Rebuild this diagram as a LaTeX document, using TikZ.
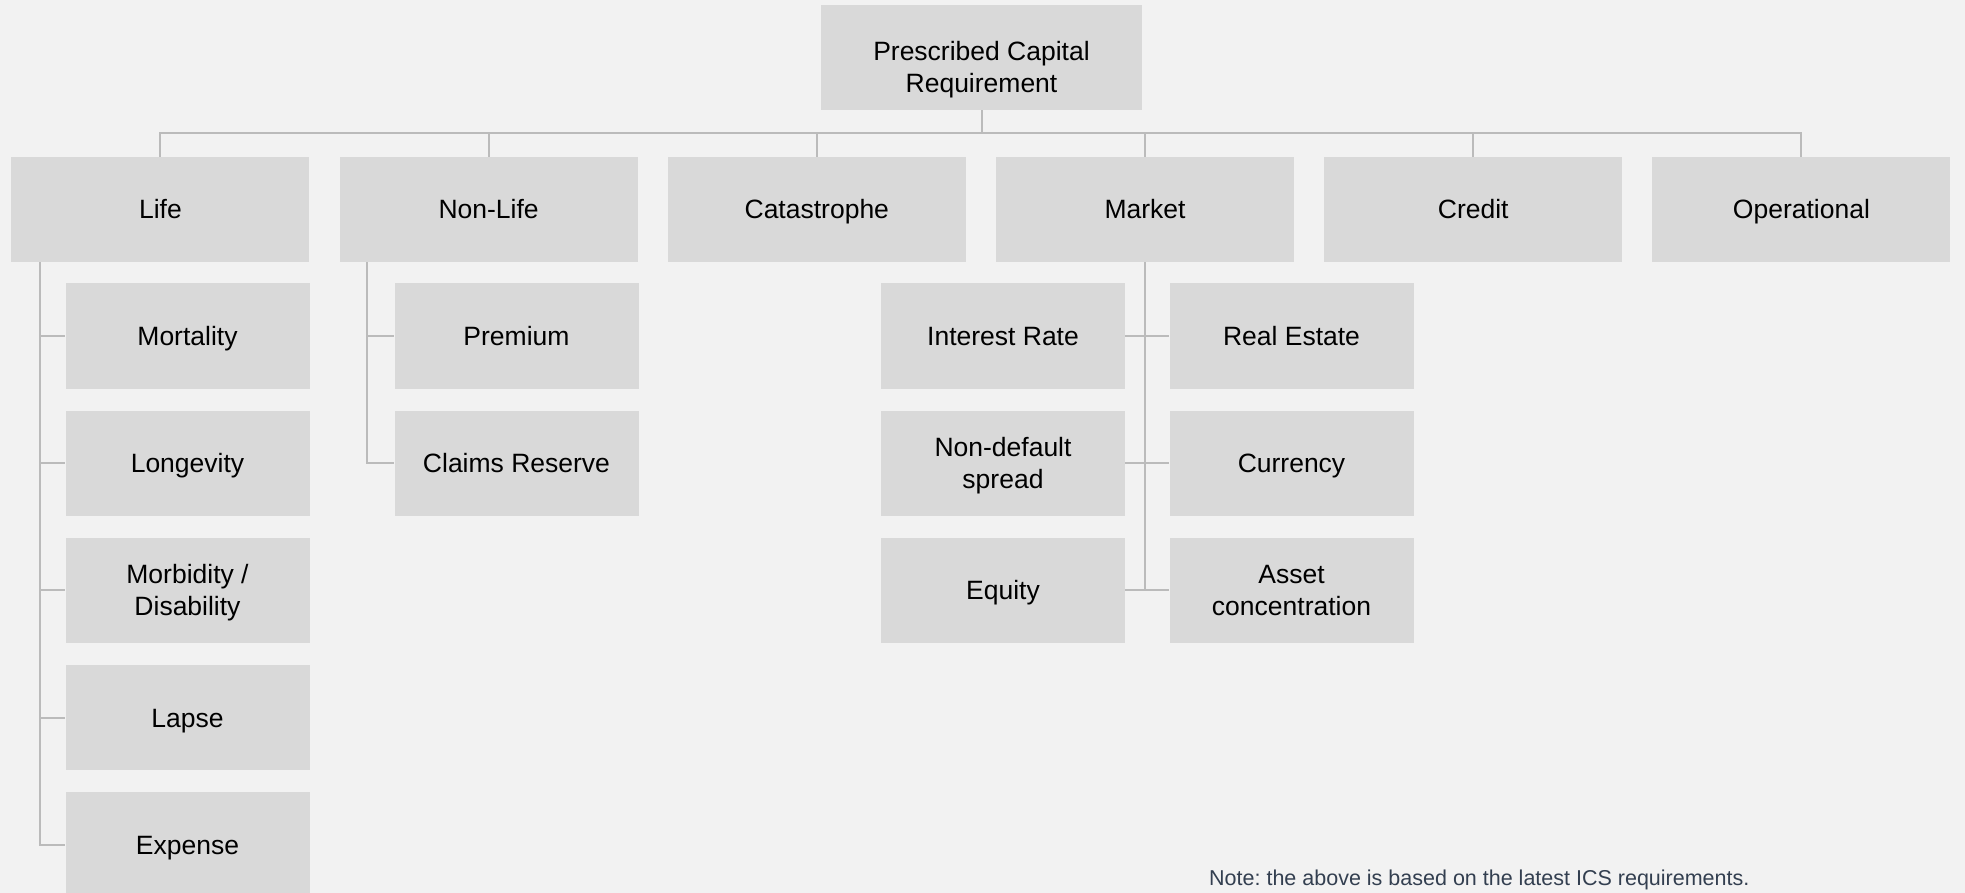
\documentclass[tikz,border=0pt]{standalone}
\usepackage{fontspec}
\setmainfont{Liberation Sans}
\usetikzlibrary{positioning}
\frenchspacing

\definecolor{bggray}{HTML}{F2F2F2}
\definecolor{boxgray}{HTML}{D9D9D9}
\definecolor{linkgray}{HTML}{BBBBBB}
\definecolor{notecol}{HTML}{333F50}

\tikzset{
    box/.style = {fill = boxgray, inner sep = 0pt, align = center,
                  minimum width = 244pt, minimum height = 105pt,
                  text height = 19pt, text depth = 0pt,
                  font = \fontsize{26.5}{32}\selectfont},
    twoline/.style = {text height = 51pt},
    riskbox/.style = {box, minimum width = 298pt},
    link/.style = {draw = linkgray, line width = 2pt}
}

\begin{document}
\begin{tikzpicture}[x = 1pt, y = -1pt]
    \fill [bggray] (0, 0) rectangle (1965, 893);
    \clip (0, 0) rectangle (1965, 893);

    \node [box, minimum width = 321pt, text height = 70pt] (pcr) at (981.5, 57.8) {Prescribed Capital\\Requirement};

    % risk categories
    \node [riskbox] (life)     at (160.4, 209.5)  {Life};
    \node [riskbox] (nonlife)  at (488.6, 209.5)  {Non-Life};
    \node [riskbox] (cat)      at (816.8, 209.5)  {Catastrophe};
    \node [riskbox] (market)   at (1145, 209.5)   {Market};
    \node [riskbox] (credit)   at (1473.2, 209.5) {Credit};
    \node [riskbox] (oper)     at (1801.4, 209.5) {Operational};

    \foreach \n in {life, nonlife, cat, market, credit, oper}
        \draw [link] (\n.north) -- ++(0, -23.5) -| (pcr.south);

    % life sub-risks
    \node [box] (mort)  at (187.5, 336) {Mortality};
    \node [box] (longv) at (187.5, 463.2) {Longevity};
    \node [box, twoline] (morb)  at (187.5, 590.4) {Morbidity /\\Disability};
    \node [box] (lapse) at (187.5, 717.6) {Lapse};
    \node [box] (exp)   at (187.5, 844.8) {Expense};

    \foreach \n in {mort, longv, morb, lapse, exp}
        \draw [link] ([xshift = 28.5pt]life.south west) |- (\n.west);

    % non-life sub-risks
    \node [box] (prem)   at (516.5, 336) {Premium};
    \node [box] (claims) at (516.5, 463.2) {Claims Reserve};

    \foreach \n in {prem, claims}
        \draw [link] ([xshift = 27.5pt]nonlife.south west) |- (\n.west);

    % market sub-risks
    \node [box] (ir)    at (1003, 336)   {Interest Rate};
    \node [box, twoline] (spr)   at (1003, 463.2)   {Non-default\\spread};
    \node [box] (eq)    at (1003, 590.4)   {Equity};
    \node [box] (re)    at (1291.5, 336) {Real Estate};
    \node [box] (fx)    at (1291.5, 463.2) {Currency};
    \node [box, twoline] (conc)  at (1291.5, 590.4) {Asset\\concentration};

    \foreach \n in {ir, spr, eq}
        \draw [link] (market.south) |- (\n.east);
    \foreach \n in {re, fx, conc}
        \draw [link] (market.south) |- (\n.west);

    \node [anchor = base west, text = notecol, inner sep = 0pt,
           font = \fontsize{21.5}{26}\selectfont] (note) at (1209, 885)
          {Note: the above is based on the latest ICS requirements.};
\end{tikzpicture}
\end{document}
